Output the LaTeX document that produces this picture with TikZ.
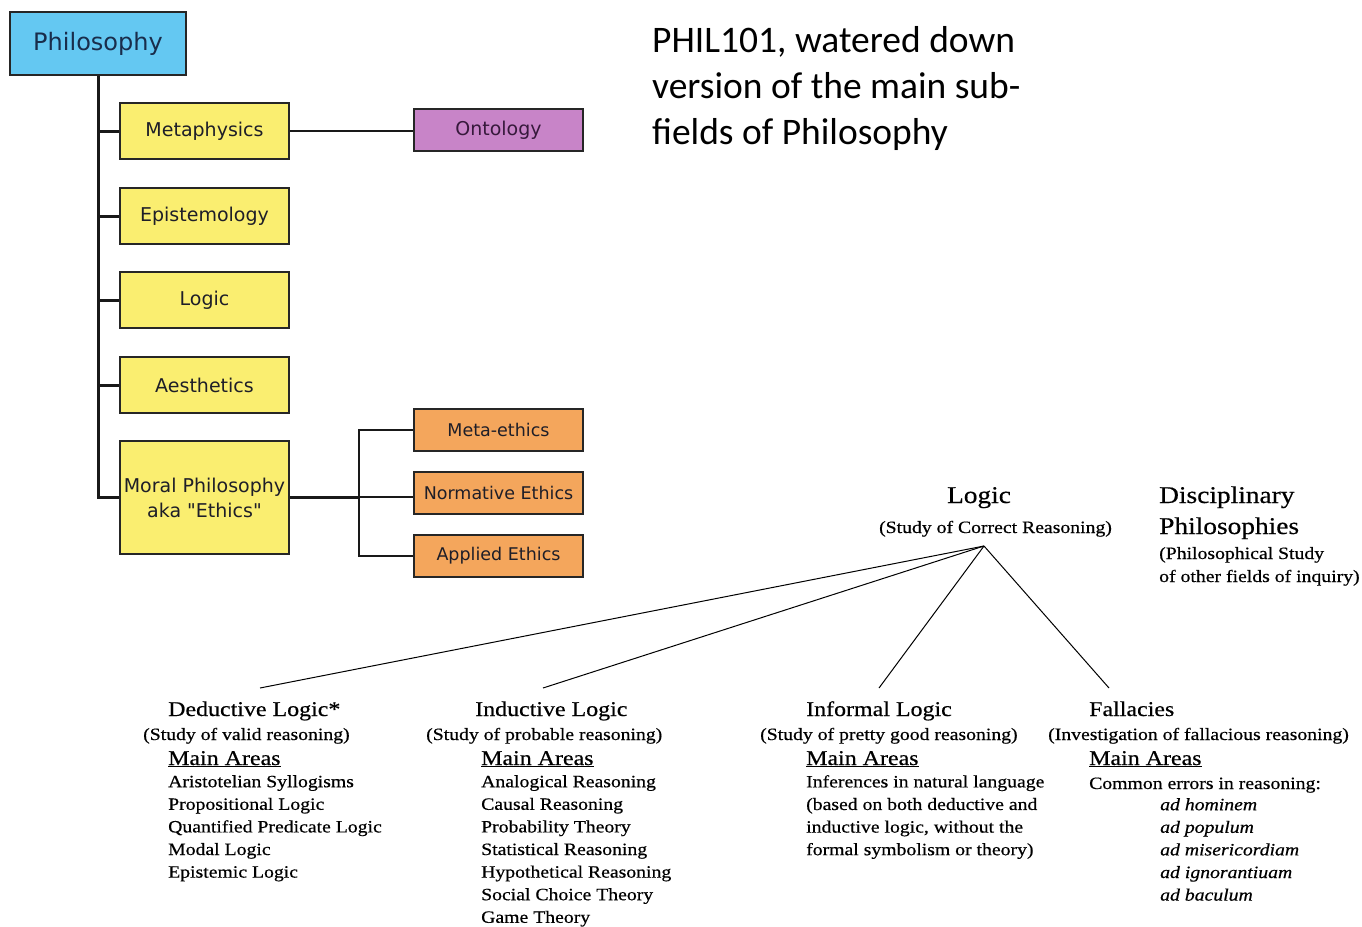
\documentclass[tikz,border=0pt]{standalone}
\usepackage{fontspec}
\setmainfont[FakeStretch=1.14,FakeBold=0.5]{Liberation Serif}
\newfontfamily\boxfont{DejaVu Sans}
\newfontfamily\titlefont{Carlito}
\definecolor{philblue}{RGB}{100,200,242}
\definecolor{subyellow}{RGB}{250,238,112}
\definecolor{ontopurple}{RGB}{200,132,200}
\definecolor{ethorange}{RGB}{244,166,92}
\definecolor{boxtext}{RGB}{30,30,40}
\tikzset{
  boxbase/.style={draw=black!85, line width=2.6pt, inner sep=0pt, align=center, text=boxtext, font=\boxfont\fontsize{19}{25}\selectfont},
  rootbox/.style={boxbase, fill=philblue, minimum width=176pt, minimum height=63pt, text={rgb,255:red,25;green,45;blue,75}, font=\boxfont\fontsize{24}{28}\selectfont},
  ybox/.style={boxbase, fill=subyellow, minimum width=169pt, minimum height=56pt},
  pbox/.style={boxbase, fill=ontopurple, minimum width=169pt, minimum height=42pt, text={rgb,255:red,55;green,25;blue,60}},
  obox/.style={boxbase, fill=ethorange, minimum width=169pt, minimum height=42pt, font=\boxfont\fontsize{17.5}{22}\selectfont},
  trunk/.style={line width=3pt, black!90},
  branch/.style={line width=2.2pt, black!90},
  thin/.style={line width=1pt, black},
  big/.style={font=\fontsize{24}{28}\selectfont, inner sep=0pt},
  head/.style={font=\fontsize{21}{24}\selectfont, inner sep=0pt},
  small/.style={font=\fontsize{17.3}{22.5}\selectfont, inner sep=0pt},
  listing/.style={font=\fontsize{17.3}{22.6}\selectfont, inner sep=0pt, align=left},
}
\begin{document}
\begin{tikzpicture}[x=1pt,y=-1pt]
\useasboundingbox[fill=white] (0,0) rectangle (1362,926);

% ---- tree ----
\node[rootbox] (phil) at (98,43.5) {Philosophy};
\node[ybox] (meta) at (204.5,131) {Metaphysics};
\node[ybox] (epist) at (204.5,216) {Epistemology};
\node[ybox] (logicbox) at (204.5,300) {Logic};
\node[ybox] (aesth) at (204.5,385) {Aesthetics};
\node[ybox, minimum height=113pt, font=\boxfont\fontsize{19}{25}\selectfont] (moral) at (204.5,497.5) {Moral Philosophy\\aka "Ethics"};
\node[pbox] (onto) at (498.5,130) {Ontology};
\node[obox] (metaeth) at (498.5,430) {Meta-ethics};
\node[obox] (norm) at (498.5,493) {Normative Ethics};
\node[obox] (appl) at (498.5,556) {Applied Ethics};

\draw[trunk] (phil.south) -- (phil.south |- moral.west) -- (moral.west);
\foreach \n in {meta,epist,logicbox,aesth}
  \draw[trunk] (phil.south |- \n.west) -- (\n.west);
\draw[branch] (meta.east) -- (meta.east -| onto.west);
\coordinate (split) at (359,497);
\draw[trunk] (moral.east |- split) -- (split);
\draw[branch] (metaeth.west) -- (metaeth.west -| split) -- (appl.west -| split) -- (appl.west);
\draw[branch] (split) -- (split -| norm.west);

% ---- title ----
\node[anchor=north west, inner sep=0pt, align=left, font=\titlefont\fontsize{37.5}{46}\selectfont] (title) at (652,26)
  {PHIL101, watered down\\version of the main sub-\\fields of Philosophy};

% ---- logic ----
\node[big, anchor=base] (logichead) at (979,503) {Logic};
\node[small, anchor=base] (logicsub) at (995.5,533) {(Study of Correct Reasoning)};
\node[big, anchor=base west] (disc1) at (1159,503) {Disciplinary};
\node[big, anchor=base west] (disc2) at (1159,534) {Philosophies};
\node[small, anchor=base west] (disc3) at (1159,559) {(Philosophical Study};
\node[small, anchor=base west] (disc4) at (1159,582) {of other fields of inquiry)};

\coordinate (apex) at (984,546);
\coordinate (dedtop) at (260,688);
\coordinate (indtop) at (543,688);
\coordinate (inftop) at (879,688);
\coordinate (faltop) at (1109,688);
\draw[thin] (apex) -- (dedtop);
\draw[thin] (apex) -- (indtop);
\draw[thin] (apex) -- (inftop);
\draw[thin] (apex) -- (faltop);

% ---- Deductive ----
\node[head, anchor=base west] (dedh) at (168,716) {Deductive Logic*};
\node[small, anchor=base west] (deds) at (143,740) {(Study of valid reasoning)};
\node[head, anchor=base west] (dedm) at (168,765) {\underline{Main Areas}};
\node[listing, anchor=north west] (dedl) at (168,775)
  {Aristotelian Syllogisms\\Propositional Logic\\Quantified Predicate Logic\\Modal Logic\\Epistemic Logic};

% ---- Inductive ----
\node[head, anchor=base west] (indh) at (475,716) {Inductive Logic};
\node[small, anchor=base west] (inds) at (426,740) {(Study of probable reasoning)};
\node[head, anchor=base west] (indm) at (481,765) {\underline{Main Areas}};
\node[listing, anchor=north west] (indl) at (481,775)
  {Analogical Reasoning\\Causal Reasoning\\Probability Theory\\Statistical Reasoning\\Hypothetical Reasoning\\Social Choice Theory\\Game Theory};

% ---- Informal ----
\node[head, anchor=base west] (infh) at (806,716) {Informal Logic};
\node[small, anchor=base west] (infs) at (760,740) {(Study of pretty good reasoning)};
\node[head, anchor=base west] (infm) at (806,765) {\underline{Main Areas}};
\node[listing, anchor=north west] (infl) at (806,775)
  {Inferences in natural language\\(based on both deductive and\\inductive logic, without the\\formal symbolism or theory)};

% ---- Fallacies ----
\node[head, anchor=base west] (falh) at (1089,716) {Fallacies};
\node[small, anchor=base west] (fals) at (1048,740) {(Investigation of fallacious reasoning)};
\node[head, anchor=base west] (falm) at (1089,765) {\underline{Main Areas}};
\node[small, anchor=base west] (fall) at (1089,789) {Common errors in reasoning:};
\node[listing, anchor=north west, font=\fontsize{17.3}{22.6}\selectfont\itshape] (fali) at (1160,798)
  {ad hominem\\ad populum\\ad misericordiam\\ad ignorantiuam\\ad baculum};
\end{tikzpicture}
\end{document}
